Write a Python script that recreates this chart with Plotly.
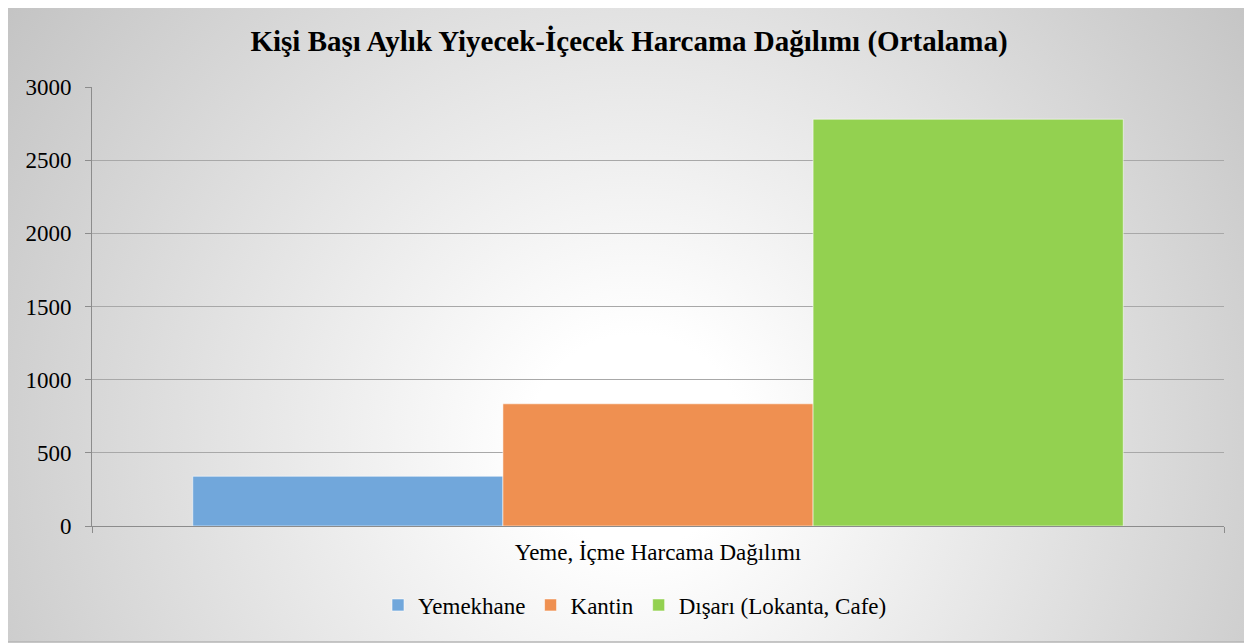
import plotly.graph_objects as go
from urllib.parse import quote

# ---- data ----
categories = ["Yeme, İçme Harcama Dağılımı"]
series_names = ["Yemekhane", "Kantin", "Dışarı (Lokanta, Cafe)"]
series_values = [[340], [835], [2780]]
series_colors = ["#71a7db", "#ef9051", "#93d150"]
y_tick_values = [0, 500, 1000, 1500, 2000, 2500, 3000]
title_text = "Kişi Başı Aylık Yiyecek-İçecek Harcama Dağılımı (Ortalama)"

# ---- layout geometry (pixels of the figure; page body adds 8px offset) ----
OFF = 8
W, H = 1252 - OFF, 644 - OFF
ML, MR, MT, MB = 92 - OFF, 28, 87 - OFF, 118
PW, PH = W - ML - MR, H - MT - MB


def px_x(p):  # p in window pixel coordinates
    return (p - OFF - ML) / PW


def px_y(p):
    return (H - MB - (p - OFF)) / PH


FONT = "Liberation Serif, Times New Roman, serif"

fig = go.Figure()
for name, vals, col in zip(series_names, series_values, series_colors):
    fig.add_trace(go.Bar(
        x=categories, y=vals, name=name,
        marker=dict(color=col, line=dict(color="rgba(255,255,255,0.55)", width=1)),
    ))

# radial gradient background
bw, bh = 1244, 641
svg = (
    f"<svg xmlns='http://www.w3.org/2000/svg' width='{bw}' height='{bh}' "
    f"viewBox='0 0 {bw} {bh}' preserveAspectRatio='none'>"
    "<defs><radialGradient id='g' cx='630' cy='440' r='760' gradientUnits='userSpaceOnUse'>"
    "<stop offset='0' stop-color='#ffffff'/>"
    "<stop offset='0.14' stop-color='#ffffff'/>"
    "<stop offset='1' stop-color='#c4c4c4'/>"
    "</radialGradient></defs>"
    f"<rect x='0' y='0' width='{bw}' height='{bh}' fill='url(#g)'/>"
    "</svg>"
)
src = "data:image/svg+xml;charset=utf-8," + quote(svg)

fig.update_layout(
    width=W, height=H,
    margin=dict(l=ML, r=MR, t=MT, b=MB, pad=0),
    paper_bgcolor="white",
    plot_bgcolor="rgba(0,0,0,0)",
    font=dict(family=FONT, size=23, color="#000000"),
    title=dict(text="<b>" + title_text + "</b>", x=px_x(629), xref="paper", xanchor="center",
               y=1 - (41 - OFF) / H, yanchor="middle", font=dict(size=29, family=FONT, color="#000")),
    barmode="group",
    bargap=0.178,
    bargroupgap=0,
    showlegend=True,
    legend=dict(orientation="h", x=px_x(635), xanchor="center", y=px_y(605), yanchor="middle",
                bgcolor="rgba(0,0,0,0)", font=dict(size=23, family=FONT), itemwidth=30,
                traceorder="normal"),
    images=[dict(source=src, xref="paper", yref="paper", x=px_x(6), y=px_y(1),
                 sizex=bw / PW, sizey=bh / PH, xanchor="left", yanchor="top",
                 sizing="stretch", layer="below")],
    shapes=[dict(type="rect", xref="paper", yref="paper", x0=px_x(6), x1=px_x(1251),
                 y0=px_y(642), y1=px_y(0.5), line=dict(color="#b5b5b5", width=1.5),
                 fillcolor="rgba(0,0,0,0)", layer="below")],
)

fig.update_xaxes(
    type="category", range=[-0.5, 0.5],
    showline=True, linecolor="#8c8c8c", linewidth=1,
    ticks="outside", tickson="boundaries", ticklen=6, tickcolor="#8c8c8c",
    showgrid=False, tickfont=dict(size=23, family=FONT), ticklabelstandoff=5,
)
fig.update_yaxes(
    range=[0, 3000], tickvals=y_tick_values,
    showline=True, linecolor="#8c8c8c", linewidth=1,
    ticks="outside", ticklen=6, tickcolor="#8c8c8c",
    showgrid=True, gridcolor="#a8a8a8", gridwidth=1,
    zeroline=False, tickfont=dict(size=23, family=FONT), ticklabelstandoff=9,
)

fig.write_html("out.html")
